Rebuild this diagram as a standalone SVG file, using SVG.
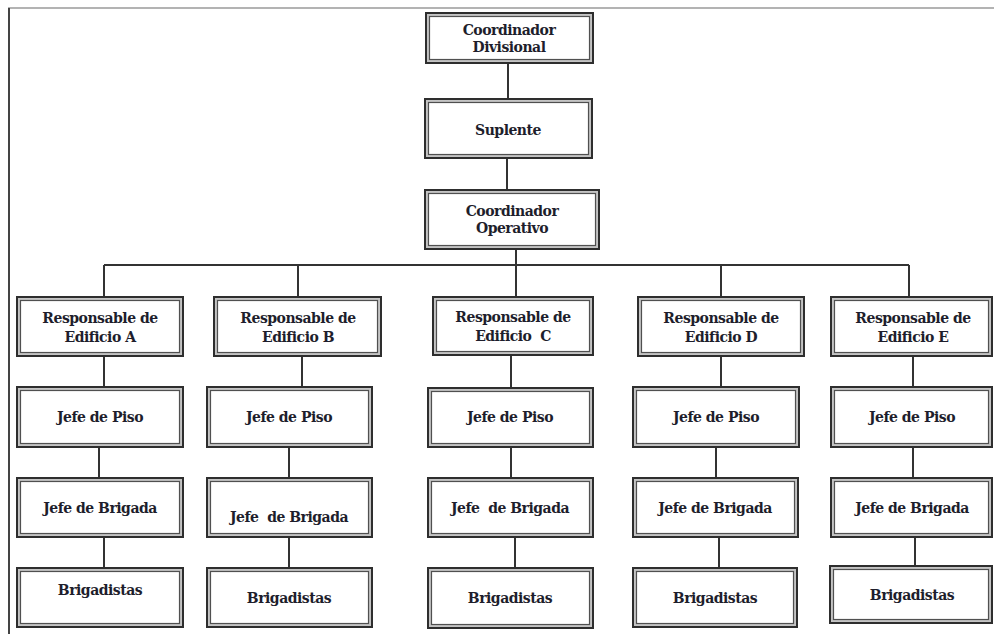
<svg xmlns="http://www.w3.org/2000/svg" width="994" height="634" viewBox="0 0 994 634">
<style>
.o{fill:#c4c4c4;stroke:#2e2e2e;stroke-width:2}
.i{fill:#fff;stroke:#505050;stroke-width:1.2}
.t{font-family:"DejaVu Serif","Liberation Serif",serif;font-weight:bold;font-size:14px;letter-spacing:-0.5px;fill:#1e1e2c;text-anchor:middle;white-space:pre}
.c{fill:none;stroke:#333;stroke-width:2}
</style>
<rect width="994" height="634" fill="#fff"/>
<g id="frame">
<line x1="8" y1="8" x2="994" y2="8" stroke="#9a9a9a" stroke-width="1.5"/>
<line x1="9" y1="8" x2="9" y2="634" stroke="#444" stroke-width="2"/>
</g>
<g id="connectors" class="c">
<path d="M508 63V99"/>
<path d="M507 158V190"/>
<path d="M516 249V297"/>
<path d="M104 265H909"/>
<path d="M104 265V297M298 265V297M721 265V297M909 265V297"/>
<path d="M104 356V387M99 447V478M104 537V568"/>
<path d="M302 356V387M289 447V478M289 537V568"/>
<path d="M511 355V388M511 447V478M515 537V568"/>
<path d="M721 356V387M716 447V478M719 537V568"/>
<path d="M913 356V387M913 447V478M915 537V566"/>
</g>
<g id="n-coord-div"><rect class="o" x="426" y="13" width="167" height="50"/><rect class="i" x="429.5" y="16.5" width="160" height="43"/><text class="t" x="509" y="35">Coordinador</text><text class="t" x="509" y="52">Divisional</text></g>
<g id="n-suplente"><rect class="o" x="425" y="99" width="167" height="59"/><rect class="i" x="428.5" y="102.5" width="160" height="52"/><text class="t" x="508" y="135">Suplente</text></g>
<g id="n-coord-op"><rect class="o" x="425" y="190" width="174" height="59"/><rect class="i" x="428.5" y="193.5" width="167" height="52"/><text class="t" x="512" y="216">Coordinador</text><text class="t" x="512" y="233">Operativo</text></g>

<g id="n-resp-a"><rect class="o" x="17" y="297" width="166" height="59"/><rect class="i" x="20.5" y="300.5" width="159" height="52"/><text class="t" x="100" y="323">Responsable de</text><text class="t" x="100" y="342">Edificio A</text></g>
<g id="n-piso-a"><rect class="o" x="17" y="387" width="166" height="60"/><rect class="i" x="20.5" y="390.5" width="159" height="53"/><text class="t" x="100" y="422">Jefe de Piso</text></g>
<g id="n-brig-a"><rect class="o" x="17" y="478" width="166" height="59"/><rect class="i" x="20.5" y="481.5" width="159" height="52"/><text class="t" x="100" y="513">Jefe de Brigada</text></g>
<g id="n-bdts-a"><rect class="o" x="17" y="568" width="166" height="59"/><rect class="i" x="20.5" y="571.5" width="159" height="52"/><text class="t" x="100" y="595">Brigadistas</text></g>

<g id="n-resp-b"><rect class="o" x="214" y="297" width="167" height="59"/><rect class="i" x="217.5" y="300.5" width="160" height="52"/><text class="t" x="298" y="323">Responsable de</text><text class="t" x="298" y="342">Edificio B</text></g>
<g id="n-piso-b"><rect class="o" x="207" y="387" width="165" height="60"/><rect class="i" x="210.5" y="390.5" width="158" height="53"/><text class="t" x="289" y="422">Jefe de Piso</text></g>
<g id="n-brig-b"><rect class="o" x="207" y="478" width="165" height="59"/><rect class="i" x="210.5" y="481.5" width="158" height="52"/><text class="t" x="289" y="522">Jefe  de Brigada</text></g>
<g id="n-bdts-b"><rect class="o" x="207" y="568" width="165" height="59"/><rect class="i" x="210.5" y="571.5" width="158" height="52"/><text class="t" x="289" y="603">Brigadistas</text></g>

<g id="n-resp-c"><rect class="o" x="433" y="297" width="160" height="58"/><rect class="i" x="436.5" y="300.5" width="153" height="51"/><text class="t" x="513" y="322">Responsable de</text><text class="t" x="513" y="341">Edificio  C</text></g>
<g id="n-piso-c"><rect class="o" x="428" y="388" width="165" height="59"/><rect class="i" x="431.5" y="391.5" width="158" height="52"/><text class="t" x="510" y="422">Jefe de Piso</text></g>
<g id="n-brig-c"><rect class="o" x="428" y="478" width="165" height="59"/><rect class="i" x="431.5" y="481.5" width="158" height="52"/><text class="t" x="510" y="513">Jefe  de Brigada</text></g>
<g id="n-bdts-c"><rect class="o" x="428" y="568" width="165" height="60"/><rect class="i" x="431.5" y="571.5" width="158" height="53"/><text class="t" x="510" y="603">Brigadistas</text></g>

<g id="n-resp-d"><rect class="o" x="638" y="297" width="166" height="59"/><rect class="i" x="641.5" y="300.5" width="159" height="52"/><text class="t" x="721" y="323">Responsable de</text><text class="t" x="721" y="342">Edificio D</text></g>
<g id="n-piso-d"><rect class="o" x="633" y="387" width="166" height="60"/><rect class="i" x="636.5" y="390.5" width="159" height="53"/><text class="t" x="716" y="422">Jefe de Piso</text></g>
<g id="n-brig-d"><rect class="o" x="633" y="478" width="165" height="59"/><rect class="i" x="636.5" y="481.5" width="158" height="52"/><text class="t" x="715" y="513">Jefe de Brigada</text></g>
<g id="n-bdts-d"><rect class="o" x="633" y="568" width="164" height="59"/><rect class="i" x="636.5" y="571.5" width="157" height="52"/><text class="t" x="715" y="603">Brigadistas</text></g>

<g id="n-resp-e"><rect class="o" x="831" y="297" width="161" height="59"/><rect class="i" x="834.5" y="300.5" width="154" height="52"/><text class="t" x="913" y="323">Responsable de</text><text class="t" x="913" y="342">Edificio E</text></g>
<g id="n-piso-e"><rect class="o" x="831" y="387" width="161" height="60"/><rect class="i" x="834.5" y="390.5" width="154" height="53"/><text class="t" x="912" y="422">Jefe de Piso</text></g>
<g id="n-brig-e"><rect class="o" x="831" y="478" width="161" height="59"/><rect class="i" x="834.5" y="481.5" width="154" height="52"/><text class="t" x="912" y="513">Jefe de Brigada</text></g>
<g id="n-bdts-e"><rect class="o" x="830" y="566" width="162" height="57"/><rect class="i" x="833.5" y="569.5" width="155" height="50"/><text class="t" x="912" y="600">Brigadistas</text></g>
</svg>
